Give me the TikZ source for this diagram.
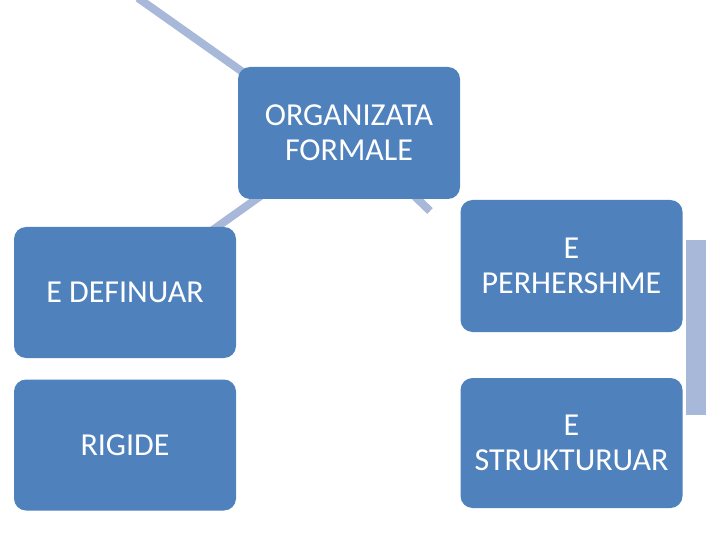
\documentclass[tikz,border=0pt]{standalone}
\usepackage{fontspec}
\setmainfont{Carlito}
\usetikzlibrary{backgrounds}
\definecolor{boxblue}{HTML}{4F81BD}
\definecolor{linkblue}{HTML}{A7B8D8}
\tikzset{
  orgbox/.style={fill=boxblue, rounded corners=12pt, minimum width=222pt,
    minimum height=131pt, inner sep=0pt, align=center, text=white,
    font=\fontsize{32}{35}\selectfont},
  link/.style={draw=linkblue, line width=8pt}
}
\begin{document}
\begin{tikzpicture}[x=1pt, y=-1pt]
    \useasboundingbox (0,0) rectangle (720,540);

    \node[orgbox, minimum height=132pt] (formale) at (349,133) {ORGANIZATA\\FORMALE};

    \node[orgbox] (definuar) at (125,292.5) {E DEFINUAR};
    \node[orgbox] (rigide) at (125,445) {RIGIDE};

    \node[orgbox, minimum height=132pt] (perhershme) at (571.5,266) {E\\PERHERSHME};
    \node[orgbox, minimum height=130pt] (strukturuar) at (571.5,443) {E\\STRUKTURUAR};

    \coordinate (topend) at (138,-2);
    \coordinate (rightend) at (430,211);
    \coordinate (bartop) at (696,240);
    \coordinate (barbot) at (696,415);

    \begin{scope}[on background layer]
        \draw[link] (topend) -- ([xshift=-20pt]formale.center);
        \draw[link] (formale.center) -- (definuar.center);
        \draw[link] (formale.center) -- (rightend);
        \draw[link, line width=20pt] (bartop) -- (barbot);
    \end{scope}
\end{tikzpicture}
\end{document}
